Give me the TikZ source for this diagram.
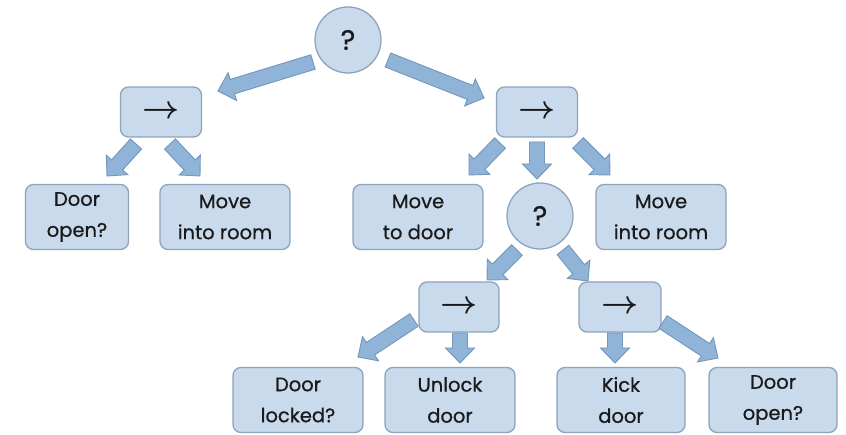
\documentclass[tikz,border=0pt]{standalone}
\usepackage{fontspec}
\usepackage{graphicx}
\setmainfont{Poppins}[FakeBold=0.7]
\usetikzlibrary{calc}
\definecolor{boxfill}{HTML}{C8DAEC}
\definecolor{boxdraw}{HTML}{8DA4BC}
\definecolor{arrfill}{HTML}{90B4D8}
\definecolor{arrdraw}{HTML}{7396BB}
\definecolor{txt}{HTML}{1A1A1A}
\newcommand{\seqsym}{\scalebox{1.3}{\boldmath$\rightarrow$}}
\tikzset{
  leaf/.style={draw=boxdraw, fill=boxfill, rounded corners=8pt, line width=1.3pt,
    minimum width=130pt, minimum height=65pt, align=center, inner sep=0pt,
    text=txt, font=\fontsize{19.5}{31}\selectfont},
  seqbox/.style={draw=boxdraw, fill=boxfill, rounded corners=8pt, line width=1.3pt,
    minimum width=81pt, minimum height=50pt, inner sep=0pt, text=txt,
    font=\fontsize{24}{24}\selectfont},
  selbox/.style={circle, draw=boxdraw, fill=boxfill, line width=1.3pt,
    minimum size=66pt, inner sep=0pt, text=txt, font=\fontsize{28}{28}\selectfont},
  arrst/.style={fill=arrfill, draw=arrdraw, line width=0.9pt, line join=miter}
}
\newcommand{\barrow}[4]{%
  \coordinate (ba) at ($(#1)+(#2)$);
  \coordinate (bb) at ($(#3)+(#4)$);
  \coordinate (bc) at ($(bb)!15pt!(ba)$);
  \filldraw[arrst] ($(ba)!7.5pt!90:(bb)$) -- ($(bc)!7.5pt!-90:(ba)$) -- ($(bc)!14.5pt!-90:(ba)$)
    -- (bb) -- ($(bc)!14.5pt!90:(ba)$) -- ($(bc)!7.5pt!90:(ba)$) -- ($(ba)!7.5pt!-90:(bb)$) -- cycle;}
\begin{document}
\begin{tikzpicture}[x=1pt,y=-1pt]
\useasboundingbox (0,0) rectangle (846,435);
\fill[white] (0,0) rectangle (846,435);
\node[selbox] (root) at (348,40) {?};
\node[seqbox] (lseq) at (161,112) {\seqsym};
\node[seqbox] (rseq) at (537,112) {\seqsym};
\node[leaf, minimum width=103pt] (dopen1) at (77,217) {Door\\open?};
\node[leaf] (mir1) at (225,217) {Move\\into room};
\node[leaf] (mtd) at (418,217) {Move\\to door};
\node[selbox] (q2) at (540,216) {?};
\node[leaf] (mir2) at (661,217) {Move\\into room};
\node[seqbox, minimum width=80pt] (seqL) at (459,307) {\seqsym};
\node[seqbox, minimum width=82pt] (seqR) at (620,307) {\seqsym};
\node[leaf] (dlocked) at (298,400) {Door\\locked?};
\node[leaf] (unlock) at (450,400) {Unlock\\door};
\node[leaf, minimum width=128pt] (kick) at (621,400) {Kick\\door};
\node[leaf, minimum width=128pt] (dopen2) at (773,400) {Door\\open?};
\barrow{root}{-35,22}{lseq}{57,-21}
\barrow{root}{40,20}{rseq}{-53,-14}
\barrow{lseq}{-25,32}{dopen1}{30,-41}
\barrow{lseq}{9,32}{mir1}{-25,-41}
\barrow{rseq}{-37,31}{mtd}{51,-42}
\barrow{rseq}{0,30}{q2}{-3,-37}
\barrow{rseq}{41,31}{mir2}{-51,-42}
\barrow{q2}{-23,34}{seqL}{28,-27}
\barrow{q2}{23,34}{seqR}{-32,-26}
\barrow{seqL}{-45,13}{dlocked}{60,-43}
\barrow{seqL}{1,26}{unlock}{10,-37}
\barrow{seqR}{-5,26}{kick}{-6,-37}
\barrow{seqR}{43,15}{dopen2}{-55,-42}
\end{tikzpicture}
\end{document}
